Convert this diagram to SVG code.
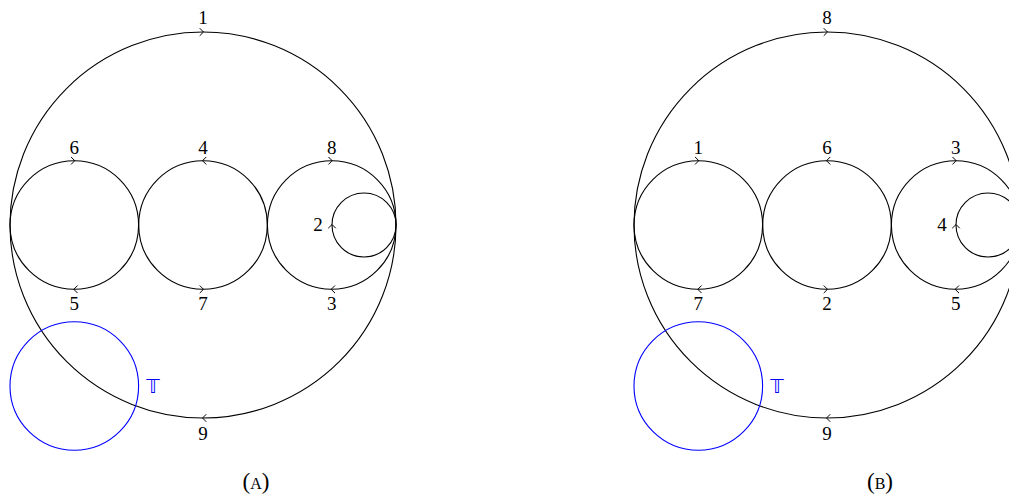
<svg xmlns="http://www.w3.org/2000/svg" width="1009" height="495" viewBox="0 0 1009 495">
<style>
.c{fill:none;stroke:#000;stroke-width:1.1}
.b{fill:none;stroke:#0000ff;stroke-width:1.1}
.a{fill:none;stroke:#000;stroke-width:1;stroke-linecap:round;stroke-linejoin:round}
text{font-family:"Liberation Serif","DejaVu Serif",serif;font-size:19px;text-anchor:middle;fill:#000}
.bt{fill:#0000ff;font-family:"DejaVu Sans","Noto Sans",sans-serif;font-size:19px}
.cap{font-size:23px}
</style>
<defs>
<path id="r" class="a" d="M-3,-3.5 L0.5,0 L-3,3.5"/>
<path id="l" class="a" d="M3,-3.5 L-0.5,0 L3,3.5"/>
<path id="u" class="a" d="M-3.5,3 L0,-0.5 L3.5,3"/>
</defs>
<g id="panelA">
<g id="A-circles">
<circle id="A-big" class="c" cx="203" cy="225" r="193"/>
<circle id="A-c1" class="c" cx="74.3" cy="225" r="64.3"/>
<circle id="A-c2" class="c" cx="203" cy="225" r="64.3"/>
<circle id="A-c3" class="c" cx="331.7" cy="225" r="64.3"/>
<circle id="A-c4" class="c" cx="364" cy="225" r="32"/>
<circle id="A-T" class="b" cx="74.3" cy="386" r="64.3"/>
</g>
<g id="A-arrows">
<use href="#r" x="203" y="32"/>
<use href="#r" x="74.3" y="160.7"/>
<use href="#l" x="74.3" y="289.3"/>
<use href="#l" x="203" y="160.7"/>
<use href="#r" x="203" y="289.3"/>
<use href="#r" x="331.7" y="160.7"/>
<use href="#l" x="331.7" y="289.3"/>
<use href="#u" x="332" y="225"/>
<use href="#l" x="203" y="418"/>
</g>
<g id="A-labels">
<text x="203" y="24">1</text>
<text x="74.3" y="154">6</text>
<text x="203" y="154">4</text>
<text x="331.7" y="154">8</text>
<text x="318" y="231">2</text>
<text x="74.3" y="310">5</text>
<text x="203" y="310">7</text>
<text x="331.7" y="310">3</text>
<text x="203" y="440">9</text>
<text class="bt" x="153" y="393">𝕋</text>
<text class="cap" x="256" y="489">(<tspan font-size="16">A</tspan>)</text>
</g>
</g>
<g id="panelB">
<g id="B-circles">
<circle id="B-big" class="c" cx="827" cy="225" r="193"/>
<circle id="B-c1" class="c" cx="698.3" cy="225" r="64.3"/>
<circle id="B-c2" class="c" cx="827" cy="225" r="64.3"/>
<circle id="B-c3" class="c" cx="955.7" cy="225" r="64.3"/>
<circle id="B-c4" class="c" cx="988" cy="225" r="32"/>
<circle id="B-T" class="b" cx="698.3" cy="386" r="64.3"/>
</g>
<g id="B-arrows">
<use href="#r" x="827" y="32"/>
<use href="#r" x="698.3" y="160.7"/>
<use href="#l" x="698.3" y="289.3"/>
<use href="#l" x="827" y="160.7"/>
<use href="#r" x="827" y="289.3"/>
<use href="#r" x="955.7" y="160.7"/>
<use href="#l" x="955.7" y="289.3"/>
<use href="#u" x="956" y="225"/>
<use href="#l" x="827" y="418"/>
</g>
<g id="B-labels">
<text x="827" y="24">8</text>
<text x="698.3" y="154">1</text>
<text x="827" y="154">6</text>
<text x="955.7" y="154">3</text>
<text x="942" y="231">4</text>
<text x="698.3" y="310">7</text>
<text x="827" y="310">2</text>
<text x="955.7" y="310">5</text>
<text x="827" y="440">9</text>
<text class="bt" x="777" y="393">𝕋</text>
<text class="cap" x="880" y="489">(<tspan font-size="16">B</tspan>)</text>
</g>
</g>
</svg>
